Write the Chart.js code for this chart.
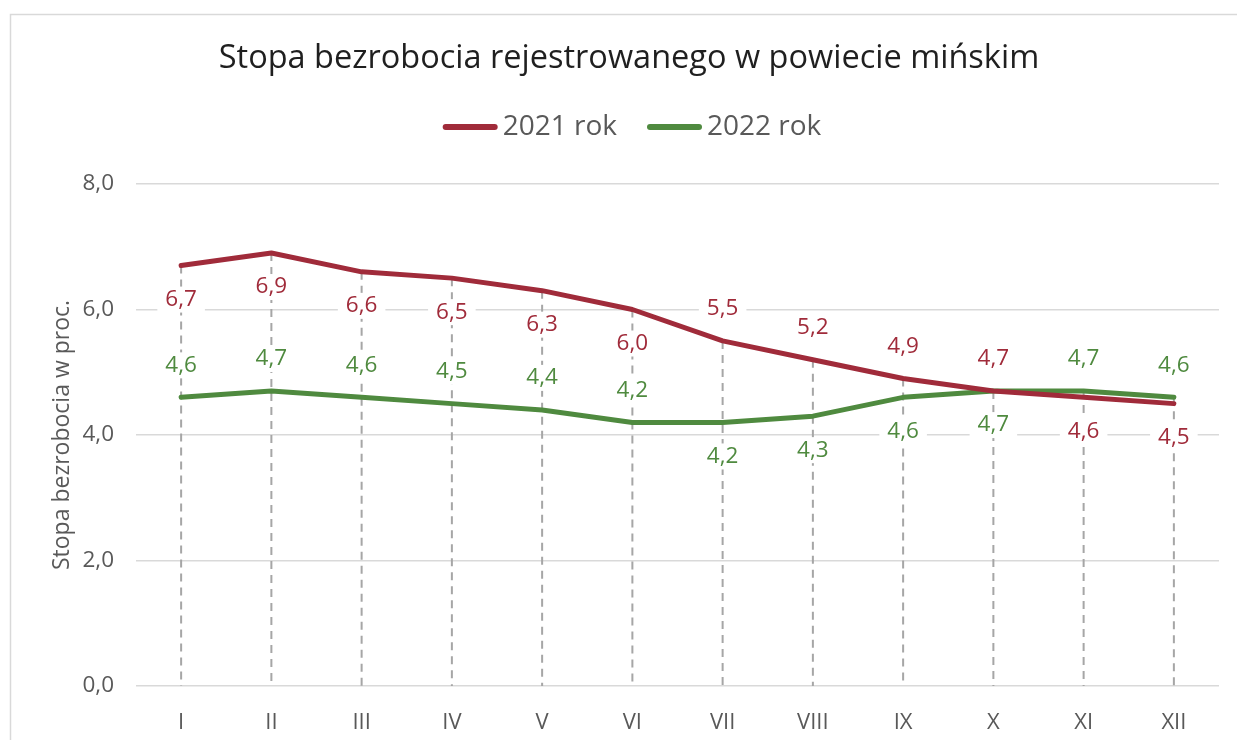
<!DOCTYPE html>
<html>
<head>
<meta charset="utf-8">
<script src="https://cdn.jsdelivr.net/npm/chart.js@4.4.1/dist/chart.umd.min.js"></script>
<style>
    html, body { margin: 0; padding: 0; background: #fff; overflow: hidden; }
    #wrap { position: relative; width: 1237px; height: 740px; overflow: hidden; }
    #chart { position: absolute; left: 0; top: 0; width: 1258px; height: 740px; }
</style>
</head>
<body>
<div id="wrap"><canvas id="chart" width="1258" height="740"></canvas></div>
<script>
const months = ['I', 'II', 'III', 'IV', 'V', 'VI', 'VII', 'VIII', 'IX', 'X', 'XI', 'XII'];
const rate2021 = [6.7, 6.9, 6.6, 6.5, 6.3, 6.0, 5.5, 5.2, 4.9, 4.7, 4.6, 4.5];
const rate2022 = [4.6, 4.7, 4.6, 4.5, 4.4, 4.2, 4.2, 4.3, 4.6, 4.7, 4.7, 4.6];
const yTicks = [0, 2, 4, 6, 8];

// where the value label sits relative to the point
const labelPos2021 = ['below', 'below', 'below', 'below', 'below', 'below', 'above', 'above', 'above', 'above', 'below', 'below'];
const labelPos2022 = ['above', 'above', 'above', 'above', 'above', 'above', 'below', 'below', 'below', 'below', 'above', 'above'];

const RED = '#a02b3a';
const GREEN = '#4f8a3f';
const GREY_TEXT = '#595959';
const FONT = '"Open Sans", sans-serif';

const fmt = v => Number(v).toFixed(1).replace('.', ',');

// frame around the chart (only top and left edge are visible)
const frame = {
    id: 'frame',
    beforeDraw(chart) {
        const ctx = chart.ctx;
        ctx.save();
        ctx.strokeStyle = '#d9d9d9';
        ctx.lineWidth = 1.5;
        ctx.beginPath();
        ctx.moveTo(10.5, 760);
        ctx.lineTo(10.5, 14.5);
        ctx.lineTo(1248, 14.5);
        ctx.stroke();
        ctx.restore();
    }
};

// dashed drop lines from the higher point down to the axis
const dropLines = {
    id: 'dropLines',
    beforeDatasetsDraw(chart) {
        const { ctx, scales: { x, y } } = chart;
        ctx.save();
        ctx.strokeStyle = '#a6a6a6';
        ctx.lineWidth = 2;
        ctx.setLineDash([8, 6]);
        months.forEach((m, i) => {
            const px = x.getPixelForValue(i);
            const top = y.getPixelForValue(Math.max(rate2021[i], rate2022[i]));
            ctx.beginPath();
            ctx.moveTo(px, top);
            ctx.lineTo(px, y.getPixelForValue(0));
            ctx.stroke();
        });
        ctx.restore();
    }
};

// value labels with a white box behind them
const valueLabels = {
    id: 'valueLabels',
    afterDatasetsDraw(chart) {
        const ctx = chart.ctx;
        const placement = [labelPos2021, labelPos2022];
        ctx.save();
        ctx.font = '22.5px ' + FONT;
        ctx.textAlign = 'center';
        ctx.textBaseline = 'middle';
        chart.data.datasets.forEach((ds, di) => {
            const meta = chart.getDatasetMeta(di);
            meta.data.forEach((pt, i) => {
                const txt = fmt(ds.data[i]);
                const ly = placement[di][i] === 'above' ? pt.y - 32 : pt.y + 34;
                const w = ctx.measureText(txt).width + 16;
                ctx.fillStyle = '#fff';
                ctx.fillRect(pt.x - w / 2, ly - 13, w, 26);
                ctx.fillStyle = ds.borderColor;
                ctx.fillText(txt, pt.x, ly);
            });
        });
        ctx.restore();
    }
};

// legend drawn by hand so the line length and gaps match
const lineLegend = {
    id: 'lineLegend',
    afterDraw(chart) {
        const ctx = chart.ctx;
        const lineLen = 55, gap = 5, spacing = 30, cy = 127, cx = 632;
        ctx.save();
        ctx.font = '28px ' + FONT;
        const items = chart.data.datasets.map(ds => ({ text: ds.label, color: ds.borderColor, w: ctx.measureText(ds.label).width }));
        const total = items.reduce((s, it) => s + lineLen + gap + it.w, 0) + spacing * (items.length - 1);
        let x0 = cx - total / 2;
        items.forEach(it => {
            ctx.strokeStyle = it.color;
            ctx.lineWidth = 6;
            ctx.lineCap = 'round';
            ctx.beginPath();
            ctx.moveTo(x0 + 3, cy);
            ctx.lineTo(x0 + lineLen - 3, cy);
            ctx.stroke();
            ctx.fillStyle = GREY_TEXT;
            ctx.textAlign = 'left';
            ctx.textBaseline = 'middle';
            ctx.fillText(it.text, x0 + lineLen + gap, cy);
            x0 += lineLen + gap + it.w + spacing;
        });
        ctx.restore();
    }
};

new Chart(document.getElementById('chart'), {
    type: 'line',
    data: {
        labels: months,
        datasets: [
            {
                label: '2021 rok',
                data: rate2021,
                borderColor: RED,
                backgroundColor: RED,
                borderWidth: 5,
                pointRadius: 0,
                tension: 0,
                borderJoinStyle: 'round',
                borderCapStyle: 'round'
            },
            {
                label: '2022 rok',
                data: rate2022,
                borderColor: GREEN,
                backgroundColor: GREEN,
                borderWidth: 5,
                pointRadius: 0,
                tension: 0,
                borderJoinStyle: 'round',
                borderCapStyle: 'round'
            }
        ]
    },
    options: {
        responsive: false,
        animation: false,
        devicePixelRatio: 1,
        layout: { padding: { left: 39, right: 39, top: 0, bottom: 0 } },
        scales: {
            x: {
                offset: true,
                grid: { display: false },
                border: { display: false },
                ticks: { color: GREY_TEXT, font: { family: FONT, size: 22 }, padding: 16, maxRotation: 0, autoSkip: false },
                afterFit: s => { s.height = 54; }
            },
            y: {
                min: 0,
                max: 8,
                afterBuildTicks: s => { s.ticks = yTicks.map(v => ({ value: v })); },
                ticks: { color: GREY_TEXT, font: { family: FONT, size: 22.5 }, padding: 22, callback: v => fmt(v) },
                grid: { color: '#d9d9d9', lineWidth: 1.5, drawTicks: false },
                border: { display: false },
                title: {
                    display: true,
                    text: 'Stopa bezrobocia w proc.',
                    color: GREY_TEXT,
                    font: { family: FONT, size: 23 },
                    padding: { top: 10, bottom: 0 }
                },
                afterFit: s => { s.width = 97; }
            }
        },
        plugins: {
            legend: { display: false },
            tooltip: { enabled: false },
            title: {
                display: true,
                text: 'Stopa bezrobocia rejestrowanego w powiecie mińskim',
                color: '#1f1f1f',
                font: { family: FONT, size: 32.5, weight: 'normal' },
                padding: { top: 39, bottom: 106 }
            }
        }
    },
    plugins: [frame, dropLines, valueLabels, lineLegend]
});
</script>
</body>
</html>
